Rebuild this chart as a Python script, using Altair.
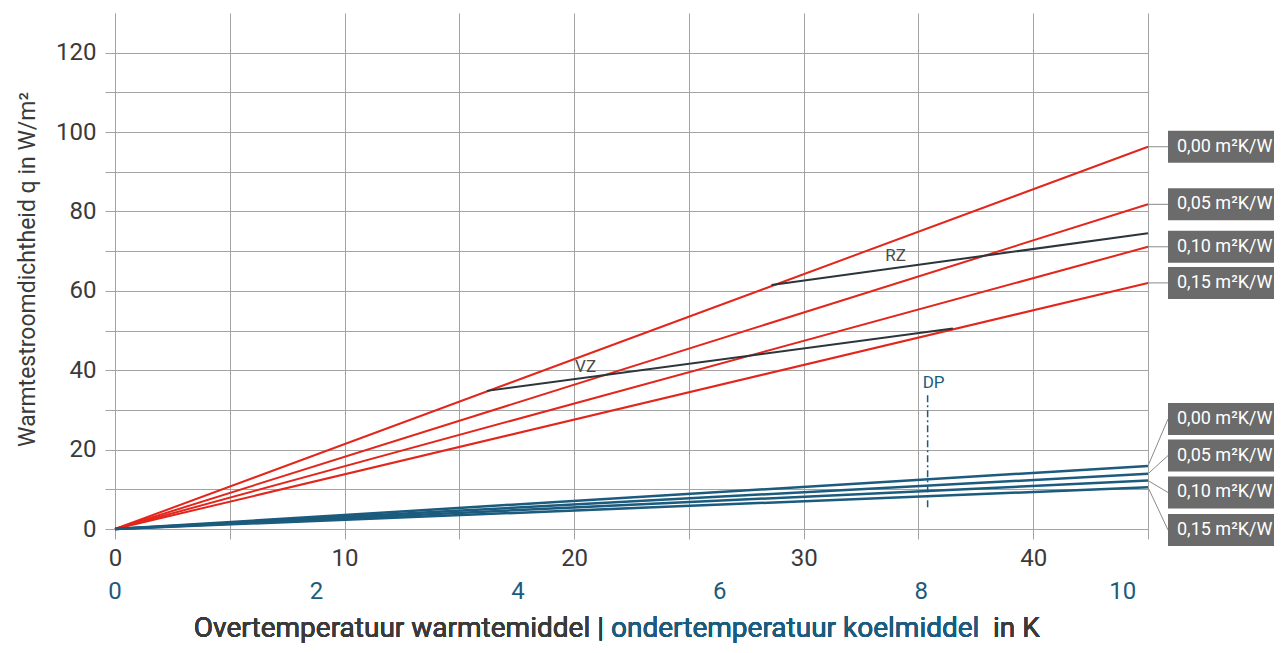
import altair as alt
import pandas as pd

# ---------------- data ----------------
X_MAX = 45
Y_MAX = 130
resistance_labels = ["0,00 m²K/W", "0,05 m²K/W", "0,10 m²K/W", "0,15 m²K/W"]
heating_q_at_max = [96.3, 81.8, 71.1, 62.0]   # red lines, q at x = 45
cooling_q_at_max = [15.9, 13.9, 12.2, 10.5]   # blue lines, q at x = 45
vz_x = [16.2, 36.5]
vz_q = [34.8, 50.5]
rz_x = [28.6, 45.0]
rz_q = [61.5, 74.5]
dp_x = [35.4]
dp_q_top = [33.7]
dp_q_bottom = [4.8]
x_ticks = list(range(0, 50, 5))
y_ticks = list(range(0, 130, 10))
cool_ticks = [0, 2, 4, 6, 8, 10]
cool_axis_max = 10.25
cool_label_anchor = [27.7, 18.5, 9.2, -0.25]   # label box centres (layout)

# ---------------- styles ----------------
RED = "#e3261c"
BLUE = "#1b5b7d"
DARK = "#2b353b"
GRID = "#a3a3a3"
TXT = "#3a3a3a"
BOX = "#6b6b6b"
FONT = "Roboto"
W, H = 1033, 516
BOX_X0, BOX_X1 = 1053, 1159
TITLE_Y = H + 108

xs = alt.Scale(domain=[0, X_MAX], nice=False)
ys = alt.Scale(domain=[0, Y_MAX], nice=False)


def lines_df(labels, ends):
    rows = []
    for lab, q in zip(labels, ends):
        rows.append(dict(series=lab, x=0, q=0))
        rows.append(dict(series=lab, x=X_MAX, q=q))
    return pd.DataFrame(rows)


heat = lines_df(resistance_labels, heating_q_at_max)
cool = lines_df(resistance_labels, cooling_q_at_max)
heat_end = pd.DataFrame({"label": resistance_labels, "x": X_MAX, "q": heating_q_at_max})
cool_end = pd.DataFrame({"label": resistance_labels, "x": X_MAX, "q": cooling_q_at_max,
                         "anchor": cool_label_anchor})
zones = pd.DataFrame({
    "zone": ["VZ", "VZ", "RZ", "RZ"],
    "x": vz_x + rz_x,
    "q": vz_q + rz_q,
})
zone_text = pd.DataFrame({"t": ["VZ", "RZ"], "x": [20.5, 34.0], "q": [40.7, 68.8]})
dp = pd.DataFrame({"x": dp_x, "q1": dp_q_top, "q2": dp_q_bottom})
cool_axis = pd.DataFrame({"k": cool_ticks})

x_axis = alt.Axis(
    values=x_ticks, labelExpr="datum.value % 10 === 0 ? datum.label : ''",
    grid=True, gridColor=GRID, gridWidth=1, tickColor=GRID, domainColor=GRID,
    tickSize=10, labelFontSize=24, labelFont=FONT, labelColor=TXT,
    labelPadding=7, labelFlush=False, labelOverlap=False, title=None,
)
y_axis = alt.Axis(
    values=y_ticks, labelExpr="datum.value % 20 === 0 ? datum.label : ''",
    grid=True, gridColor=GRID, gridWidth=1, tickColor=GRID, domainColor=GRID,
    tickSize=10, labelFontSize=24, labelFont=FONT, labelColor=TXT,
    labelPadding=9, labelOverlap=False,
    title="Warmtestroomdichtheid q in W/m²", titleFont=FONT, titleFontSize=23,
    titleFontWeight="normal", titleColor=TXT, titleAngle=270,
    titleX=-88, titleY=256, titleAlign="center", titleBaseline="middle",
)

base_lines = alt.Chart(heat).mark_line(color=RED, strokeWidth=2).encode(
    x=alt.X("x:Q", scale=xs, axis=x_axis),
    y=alt.Y("q:Q", scale=ys, axis=y_axis),
    detail="series:N",
)
cool_lines = alt.Chart(cool).mark_line(color=BLUE, strokeWidth=2.5).encode(
    x=alt.X("x:Q", scale=xs), y=alt.Y("q:Q", scale=ys), detail="series:N"
)
zone_lines = alt.Chart(zones).mark_line(color=DARK, strokeWidth=2).encode(
    x=alt.X("x:Q", scale=xs), y=alt.Y("q:Q", scale=ys), detail="zone:N"
)
zone_labels = alt.Chart(zone_text).mark_text(
    font=FONT, fontSize=17, color="#4a4a4a", baseline="middle"
).encode(x=alt.X("x:Q", scale=xs), y=alt.Y("q:Q", scale=ys), text="t:N")

dp_rule = alt.Chart(dp).mark_rule(color=BLUE, strokeWidth=1.5, strokeDash=[7, 3, 2, 3]).encode(
    x=alt.X("x:Q", scale=xs), y=alt.Y("q1:Q", scale=ys), y2="q2:Q"
)
dp_label = alt.Chart(dp).mark_text(
    text="DP", font=FONT, fontSize=17, color=BLUE, align="left", baseline="middle", dx=-5
).encode(x=alt.X("x:Q", scale=xs), y=alt.value(370))

heat_leader = alt.Chart(heat_end).mark_rule(color="#8a8a8a", strokeWidth=1).encode(
    x=alt.X("x:Q", scale=xs), x2=alt.value(BOX_X0), y=alt.Y("q:Q", scale=ys)
)
cool_leader = alt.Chart(cool_end).mark_rule(color="#8a8a8a", strokeWidth=1).encode(
    x=alt.X("x:Q", scale=xs), x2=alt.value(BOX_X0), y=alt.Y("q:Q", scale=ys), y2="anchor:Q"
)
heat_box = alt.Chart(heat_end).mark_rect(color=BOX, yOffset=-16, y2Offset=16).encode(
    x=alt.value(BOX_X0), x2=alt.value(BOX_X1), y=alt.Y("q:Q", scale=ys), y2="q:Q"
)
cool_box = alt.Chart(cool_end).mark_rect(color=BOX, yOffset=-16, y2Offset=16).encode(
    x=alt.value(BOX_X0), x2=alt.value(BOX_X1), y=alt.Y("anchor:Q", scale=ys), y2="anchor:Q"
)
heat_box_text = alt.Chart(heat_end).mark_text(
    font=FONT, fontSize=18, color="white", align="left", baseline="middle"
).encode(x=alt.value(BOX_X0 + 9), y=alt.Y("q:Q", scale=ys), text="label:N")
cool_box_text = alt.Chart(cool_end).mark_text(
    font=FONT, fontSize=18, color="white", align="left", baseline="middle"
).encode(x=alt.value(BOX_X0 + 9), y=alt.Y("anchor:Q", scale=ys), text="label:N")

title1 = alt.Chart(cool_axis).mark_text(
    text="Overtemperatuur warmtemiddel |", font=FONT, fontSize=28, color=TXT,
    align="right", baseline="alphabetic"
).encode(x=alt.value(489), y=alt.value(TITLE_Y))
title2 = alt.Chart(cool_axis).mark_text(
    text="ondertemperatuur koelmiddel", font=FONT, fontSize=28, color=BLUE,
    align="left", baseline="alphabetic"
).encode(x=alt.value(496), y=alt.value(TITLE_Y))
title3 = alt.Chart(cool_axis).mark_text(
    text="in K", font=FONT, fontSize=28, color=TXT,
    align="left", baseline="alphabetic"
).encode(x=alt.value(878), y=alt.value(TITLE_Y))

main = alt.layer(
    base_lines, cool_lines, zone_lines, zone_labels, dp_rule, dp_label,
    heat_leader, cool_leader, heat_box, cool_box, heat_box_text, cool_box_text,
    title1, title2, title3,
)

cool_scale_labels = alt.Chart(cool_axis).mark_text(
    font=FONT, fontSize=24, color=BLUE, baseline="middle"
).encode(
    x=alt.X("k:Q", scale=alt.Scale(domain=[0, cool_axis_max], nice=False), axis=None),
    y=alt.value(H + 63),
    text="k:Q",
)

chart = alt.layer(main, cool_scale_labels).resolve_scale(x="independent").properties(
    width=W, height=H,
    autosize=alt.AutoSizeParams(type="none"),
    padding={"left": 107, "top": 5, "right": 126, "bottom": 114},
    background="white",
).configure_view(stroke=None)

chart.save("out.html", embed_options={"renderer": "svg", "actions": False})
